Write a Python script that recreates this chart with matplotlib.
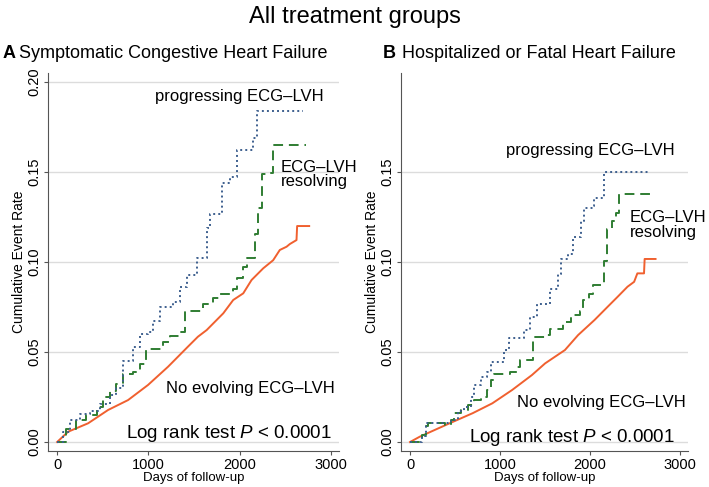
import matplotlib
matplotlib.use("Agg")
import matplotlib.pyplot as plt

plt.rcParams['font.family'] = ['Liberation Sans', 'DejaVu Sans']
plt.rcParams['mathtext.fontset'] = 'custom'
plt.rcParams['mathtext.rm'] = 'Liberation Sans'
plt.rcParams['mathtext.it'] = 'Liberation Sans:italic'

# panel A - symptomatic congestive heart failure
a_prog_days = [0, 66, 139, 249, 358, 468, 578, 651, 724, 834, 907, 999, 1054, 1127, 1273, 1346,
               1419, 1529, 1639, 1676, 1749, 1804, 1895, 1968, 2078, 2151, 2188, 2693]
a_prog_rate = [0, 0.0055, 0.012, 0.0157, 0.0175, 0.0212, 0.026, 0.030, 0.045, 0.0526, 0.060, 0.061,
               0.067, 0.075, 0.0776, 0.086, 0.093, 0.1025, 0.119, 0.1265, 0.1265, 0.144, 0.147,
               0.1625, 0.1625, 0.169, 0.1838, 0.1838]
a_res_days = [0, 102, 212, 322, 432, 505, 578, 651, 724, 834, 907, 980, 1090, 1163, 1237, 1346,
              1401, 1529, 1602, 1712, 1785, 1932, 1968, 2041, 2078, 2151, 2169, 2206, 2243, 2298,
              2371, 2729]
a_res_rate = [0, 0.0074, 0.012, 0.0148, 0.0194, 0.025, 0.0286, 0.032, 0.038, 0.039, 0.0434, 0.0517,
              0.0517, 0.0554, 0.059, 0.061, 0.073, 0.073, 0.0766, 0.080, 0.082, 0.085, 0.0914,
              0.097, 0.1025, 0.1025, 0.1154, 0.130, 0.1487, 0.1496, 0.1653, 0.1653]
a_none_days = [0, 120, 340, 559, 778, 997, 1216, 1435, 1544, 1640, 1822, 1931, 2041, 2132, 2260,
               2369, 2442, 2516, 2552, 2625, 2632, 2764]
a_none_rate = [0, 0.0057, 0.0104, 0.0178, 0.0233, 0.0317, 0.0418, 0.053, 0.0585, 0.0622, 0.0715,
               0.0789, 0.0826, 0.090, 0.0965, 0.101, 0.1067, 0.1085, 0.110, 0.1122, 0.120, 0.120]

# panel B - hospitalized or fatal heart failure
b_prog_days = [0, 128, 183, 457, 530, 604, 677, 713, 787, 860, 896, 969, 1043, 1098, 1189, 1262,
               1335, 1408, 1482, 1555, 1646, 1683, 1756, 1811, 1902, 1939, 2030, 2049, 2122, 2158,
               2652]
b_prog_rate = [0, 0.0031, 0.0105, 0.0123, 0.017, 0.0197, 0.025, 0.0317, 0.036, 0.039, 0.0446,
               0.0446, 0.051, 0.058, 0.058, 0.062, 0.0695, 0.0768, 0.0768, 0.085, 0.0934, 0.1017,
               0.1045, 0.1137, 0.123, 0.130, 0.131, 0.1358, 0.1358, 0.150, 0.150]
b_res_days = [0, 128, 183, 201, 384, 457, 494, 567, 640, 713, 787, 860, 896, 933, 1116, 1189, 1225,
              1335, 1372, 1500, 1555, 1701, 1793, 1884, 1921, 1994, 2030, 2140, 2158, 2184, 2250,
              2287, 2323, 2689]
b_res_rate = [0, 0.004, 0.0087, 0.0105, 0.0096, 0.0123, 0.016, 0.0179, 0.0206, 0.0234, 0.025,
              0.029, 0.0345, 0.038, 0.039, 0.0418, 0.0455, 0.0455, 0.0584, 0.0593, 0.063, 0.0667,
              0.0704, 0.073, 0.0787, 0.0824, 0.087, 0.087, 0.1008, 0.1183, 0.123, 0.1275, 0.138,
              0.138]
b_none_days = [0, 110, 440, 696, 915, 1135, 1355, 1502, 1722, 1868, 2051, 2198, 2308, 2418, 2491,
               2527, 2601, 2608, 2729]
b_none_rate = [0, 0.003, 0.0104, 0.016, 0.0215, 0.0289, 0.0372, 0.0437, 0.0511, 0.0594, 0.0678,
               0.0752, 0.0807, 0.0863, 0.089, 0.0937, 0.0937, 0.1017, 0.1017]

x_ticks = [0, 1000, 2000, 3000]
a_yticks = [0.00, 0.05, 0.10, 0.15, 0.20]
b_yticks = [0.00, 0.05, 0.10, 0.15]

c_prog = '#3d5f8e'
c_res = '#2f7d32'
c_none = '#f0602f'


def draw_panel(ax, prog, res, none, yticks):
    ax.plot(none[0], none[1], color=c_none, lw=1.4)
    ax.plot(res[0], res[1], color=c_res, lw=1.4, drawstyle='steps-post', dashes=(5, 3))
    ax.plot(prog[0], prog[1], color=c_prog, lw=1.4, drawstyle='steps-post', dashes=(1, 1.6))
    ax.set_xlim(-100, 3090)
    ax.set_ylim(-0.005, 0.205)
    ax.set_xticks(x_ticks)
    ax.set_yticks(yticks)
    ax.set_yticklabels([f'{v:.2f}' for v in yticks], rotation=90, va='center')
    for v in yticks:
        ax.axhline(v, color='#dcdcdc', lw=1, zorder=0)
    for s in ['top', 'right']:
        ax.spines[s].set_visible(False)
    for s in ['left', 'bottom']:
        ax.spines[s].set_color('#555555')
    ax.tick_params(colors='#555555', labelcolor='black', labelsize=10.5, length=3, pad=2)
    ax.set_xlabel('Days of follow-up', fontsize=9.5, labelpad=0)
    ax.set_ylabel('Cumulative Event Rate', fontsize=10, labelpad=1)


fig = plt.figure(figsize=(7.09, 4.87), dpi=100)
ax1 = fig.add_axes([0.0677, 0.0739, 0.4103, 0.7761])
ax2 = fig.add_axes([0.5656, 0.0739, 0.4048, 0.7761])

draw_panel(ax1, (a_prog_days, a_prog_rate), (a_res_days, a_res_rate),
           (a_none_days, a_none_rate), a_yticks)
draw_panel(ax2, (b_prog_days, b_prog_rate), (b_res_days, b_res_rate),
           (b_none_days, b_none_rate), b_yticks)

ax1.text(1073, 0.1917, 'progressing ECG\u2013LVH', fontsize=12, va='center')
ax1.text(2453, 0.1485, 'ECG\u2013LVH\nresolving', fontsize=12, va='center', linespacing=0.95)
ax1.text(1194, 0.030, 'No evolving ECG\u2013LVH', fontsize=12, va='center')
ax1.text(756, 0.0048, 'Log rank test $P$ < 0.0001', fontsize=13.5, va='center')

ax2.text(1066, 0.162, 'progressing ECG\u2013LVH', fontsize=12, va='center')
ax2.text(2440, 0.1205, 'ECG\u2013LVH\nresolving', fontsize=12, va='center', linespacing=0.95)
ax2.text(1187, 0.022, 'No evolving ECG\u2013LVH', fontsize=12, va='center')
ax2.text(660, 0.0025, 'Log rank test $P$ < 0.0001', fontsize=13.5, va='center')

fig.text(0.5, 0.966, 'All treatment groups', fontsize=17, ha='center', va='center')
fig.text(0.003, 0.891, 'A', fontsize=13, fontweight='bold', va='center')
fig.text(0.027, 0.891, 'Symptomatic Congestive Heart Failure', fontsize=13, va='center')
fig.text(0.540, 0.891, 'B', fontsize=13, fontweight='bold', va='center')
fig.text(0.567, 0.891, 'Hospitalized or Fatal Heart Failure', fontsize=13, va='center')

fig.savefig('out.png', dpi=100)
